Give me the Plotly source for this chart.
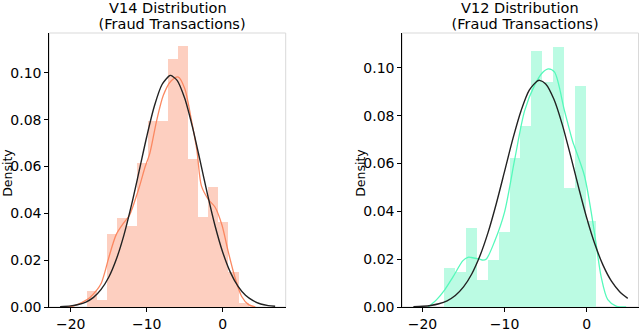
import plotly.graph_objects as go

# V14 (fraud) histogram
v14_edges = [-17.82, -16.49, -15.16, -13.83, -12.50, -11.18, -9.85, -8.52, -7.19,
             -5.86, -4.53, -3.20, -1.87, -0.54, 0.79, 2.12, 3.45]
v14_density = [0.0068, 0.0030, 0.0312, 0.0382, 0.0346, 0.0614, 0.0795, 0.0795,
               0.1061, 0.1114, 0.0630, 0.0383, 0.0512, 0.0364, 0.0149, 0.0015]
# kde curve
v14_kde_x = [-20.6, -19.5, -18.5, -17.5, -16.5, -16.0, -15.5, -15.0, -14.0, -13.0, -12.3,
             -11.0, -10.2, -9.6, -8.7, -7.8, -6.8, -5.84, -5.0, -4.1, -3.4, -2.8, -1.9,
             -1.0, -0.1, 0.7, 1.6, 2.5, 3.4, 4.3]
v14_kde_y = [0.0, 0.0006, 0.002, 0.004, 0.0075, 0.010, 0.015, 0.021, 0.031, 0.036, 0.039,
             0.051, 0.060, 0.0655, 0.0795, 0.0905, 0.0965, 0.0982, 0.0933, 0.0795, 0.067,
             0.0517, 0.046, 0.0426, 0.035, 0.024, 0.0128, 0.0045, 0.001, 0.0]
# fitted normal curve
v14_fit_x = [-21.4, -20, -19, -18, -17, -16, -15, -14, -13, -12, -11, -10, -9, -8, -7,
             -6.84, -6, -5, -4, -3, -2, -1, 0, 1, 2, 3, 4, 5, 6, 6.9]
v14_fit_y = [0.00014, 0.00048, 0.00105, 0.0021, 0.0041, 0.0075, 0.0127, 0.0204, 0.0307,
             0.0436, 0.0580, 0.0727, 0.0857, 0.0949, 0.0988, 0.0989, 0.0968, 0.0891,
             0.0771, 0.0628, 0.0481, 0.0346, 0.0234, 0.0149, 0.0089, 0.0050, 0.0027,
             0.0013, 0.0006, 0.0003]

# V12 (fraud)
v12_edges = [-17.29, -15.97, -14.65, -13.32, -12.00, -10.68, -9.36, -8.04, -6.71,
             -5.39, -4.07, -2.75, -1.43, -0.11, 1.21]
v12_density = [0.0164, 0.0147, 0.0330, 0.0115, 0.0198, 0.0314, 0.0625, 0.0757,
               0.1072, 0.0942, 0.1088, 0.0496, 0.0925, 0.0361]
v12_kde_x = [-19.3, -18.3, -17.29, -16.28, -15.07, -14.46, -14.05, -13.04, -12.64, -12.22,
             -11.2, -10.0, -8.78, -7.57, -6.35, -5.35, -4.65, -3.92, -2.71, -1.70, -1.49,
             -0.28, 0.53, 1.14, 1.75, 2.55, 3.57, 4.79]
v12_kde_y = [0.0, 0.003, 0.0072, 0.0126, 0.0194, 0.0208, 0.0207, 0.0200, 0.0196, 0.0201,
             0.0276, 0.0398, 0.0616, 0.0820, 0.0928, 0.0982, 0.0996, 0.0982, 0.0820,
             0.0690, 0.0670, 0.0548, 0.0398, 0.0262, 0.0126, 0.0031, 0.0004, 0.0]
v12_fit_x = [-21.1, -20, -19, -18, -17, -16, -15, -14, -13, -12, -11, -10, -9, -8, -7,
             -6, -5.75, -5, -4, -3, -2, -1, 0, 1, 2, 3, 4, 4.98]
v12_fit_y = [0.00012, 0.0003, 0.00065, 0.00135, 0.0026, 0.0048, 0.0084, 0.0138, 0.0214,
             0.0313, 0.0434, 0.0568, 0.0703, 0.0821, 0.0907, 0.0946, 0.0948, 0.0933,
             0.0869, 0.0765, 0.0636, 0.0500, 0.0371, 0.0261, 0.0173, 0.0108, 0.0064,
             0.0036]

x_ticks = [-20, -10, 0]
x_tick_text = ["\u221220", "\u221210", "0"]
y_ticks = [0.0, 0.02, 0.04, 0.06, 0.08, 0.10]
y_tick_text = ["0.00", "0.02", "0.04", "0.06", "0.08", "0.10"]

panels = [
    dict(name="V14", edges=v14_edges, dens=v14_density, kx=v14_kde_x, ky=v14_kde_y,
         fx=v14_fit_x, fy=v14_fit_y, color="#FB8861", bar="#FDCFC0",
         xr=[-22.82, 8.29], yr=[0, 0.117], dom=[49.3 / 640, 285.7 / 640]),
    dict(name="V12", edges=v12_edges, dens=v12_density, kx=v12_kde_x, ky=v12_kde_y,
         fx=v12_fit_x, fy=v12_fit_y, color="#56F9BB", bar="#BBFBE3",
         xr=[-22.45, 6.29], yr=[0, 0.1146], dom=[402.3 / 640, 638.5 / 640]),
]

fig = go.Figure()
font = "DejaVu Sans"

for i, p in enumerate(panels):
    xa = "x" if i == 0 else "x2"
    ya = "y" if i == 0 else "y2"
    e = p["edges"]
    mids = [(e[k] + e[k + 1]) / 2 for k in range(len(e) - 1)]
    widths = [e[k + 1] - e[k] for k in range(len(e) - 1)]
    fig.add_trace(go.Bar(x=mids, y=p["dens"], width=widths, marker_color=p["bar"],
                         marker_line_width=0, xaxis=xa, yaxis=ya, showlegend=False))
    fig.add_trace(go.Scatter(x=p["kx"], y=p["ky"], mode="lines", xaxis=xa, yaxis=ya,
                             line=dict(color=p["color"], width=1.3, shape="spline", smoothing=0.8),
                             showlegend=False))
    fig.add_trace(go.Scatter(x=p["fx"], y=p["fy"], mode="lines", xaxis=xa, yaxis=ya,
                             line=dict(color="#222222", width=1.4, shape="spline", smoothing=0.8),
                             showlegend=False))

    ax = dict(domain=p["dom"], range=p["xr"], tickvals=x_ticks, ticktext=x_tick_text,
              showgrid=False, zeroline=False, showline=True, linecolor="black", linewidth=1,
              ticks="outside", ticklen=4, tickcolor="black",
              tickfont=dict(size=14, color="black", family=font),
              anchor=ya)
    ay = dict(domain=[0, 1], range=p["yr"], tickvals=y_ticks, ticktext=y_tick_text,
              showgrid=False, zeroline=False, showline=True, linecolor="black", linewidth=1,
              ticks="outside", ticklen=4, tickcolor="black",
              tickfont=dict(size=14, color="black", family=font),
              anchor=xa)
    if i == 0:
        fig.update_layout(xaxis=ax, yaxis=ay)
    else:
        fig.update_layout(xaxis2=ax, yaxis2=ay)

    # light frame on top/right like matplotlib spines
    fig.add_shape(type="rect", xref=xa + " domain", yref=ya + " domain",
                  x0=0, x1=1, y0=0, y1=1, line=dict(color="#d9d9d9", width=1), layer="below")

    cx = (p["dom"][0] + p["dom"][1]) / 2
    fig.add_annotation(text=p["name"] + " Distribution", x=cx, y=1.092, xref="paper", yref="paper",
                       showarrow=False, xanchor="center", yanchor="middle", borderpad=0,
                       font=dict(size=14.5, color="black", family=font))
    fig.add_annotation(text=" (Fraud Transactions)", x=cx + 0.004, y=1.033, xref="paper", yref="paper",
                       showarrow=False, xanchor="center", yanchor="middle", borderpad=0,
                       font=dict(size=14.5, color="black", family=font))
    fig.add_annotation(text="Density", x=p["dom"][0] - 42 / 640, y=0.491, xref="paper", yref="paper",
                       showarrow=False, xanchor="center", yanchor="middle", textangle=-90,
                       font=dict(size=12.5, color="black", family=font))

fig.update_layout(width=640, height=332, margin=dict(l=0, r=0, t=33, b=18),
                  plot_bgcolor="white", paper_bgcolor="white", bargap=0)

# drop the browser's default 8px body margin so the figure sits at the page corner
fig.write_html("out.html", config={"displayModeBar": False},
               post_script="document.body.style.margin='0';")
